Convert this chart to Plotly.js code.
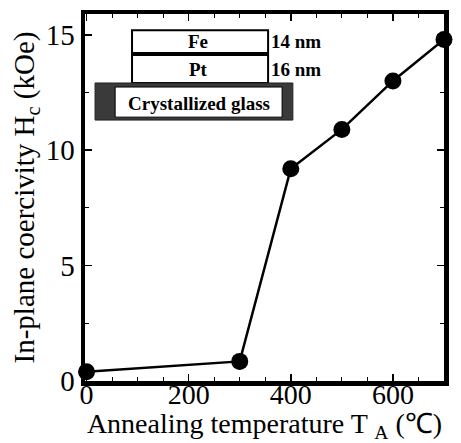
<!DOCTYPE html>
<html>
<head>
<meta charset="utf-8">
<script src="https://cdn.plot.ly/plotly-3.0.1.min.js"></script>
<style>html,body{margin:0;padding:0;background:#fff;}#chart{width:461px;height:443px;}</style>
</head>
<body>
<div id="chart"></div>
<script>
const temperatures = [0, 300, 400, 500, 600, 700];
const coercivity = [0.4, 0.85, 9.2, 10.9, 13.0, 14.8];
const xTicks = [0, 200, 400, 600];
const yTicks = [0, 5, 10, 15];
const layerLabels = ['Fe', 'Pt'];
const thicknessLabels = ['14 nm', '16 nm'];
const substrateLabel = 'Crystallized glass';

const serif = 'Liberation Serif';

const trace = {
  x: temperatures, y: coercivity, type: 'scatter', mode: 'lines+markers',
  line: {color: '#000', width: 2.5},
  marker: {color: '#000', size: 17},
  cliponaxis: false, showlegend: false
};

const fe = {x0: 0.131, x1: 0.510, y0: 0.894, y1: 0.956};
const pt = {x0: 0.131, x1: 0.510, y0: 0.812, y1: 0.888};
const glassOuter = {x0: 0.028, x1: 0.579, y0: 0.711, y1: 0.812};
const glassInner = {x0: 0.084, x1: 0.549, y0: 0.719, y1: 0.801};

function rect(g, lc, lw, fc) {
  return Object.assign({type: 'rect', xref: 'paper', yref: 'paper', line: {color: lc, width: lw}, fillcolor: fc}, g);
}
const shapes = [
  rect(fe, '#000', 2, '#fff'),
  rect(pt, '#000', 2, '#fff'),
  rect(glassOuter, '#222', 1, '#3a3a3a'),
  rect(glassInner, '#000', 1, '#fff')
];

const annFont = {family: serif, size: 19, color: '#000'};
function ann(text, x, y, xanchor) {
  return {text: '<b>' + text + '</b>', x: x, y: y, xref: 'paper', yref: 'paper',
          xanchor: xanchor, yanchor: 'middle', showarrow: false, font: annFont};
}
const annotations = [
  ann(layerLabels[0], 0.315, 0.925, 'center'),
  ann(layerLabels[1], 0.315, 0.850, 'center'),
  ann(thicknessLabels[0], 0.513, 0.925, 'left'),
  ann(thicknessLabels[1], 0.513, 0.850, 'left'),
  ann(substrateLabel, 0.318, 0.757, 'center')
];

const layout = {
  width: 461, height: 443,
  margin: {l: 85, r: 17, t: 14, b: 62},
  paper_bgcolor: '#fff', plot_bgcolor: '#fff',
  font: {family: serif, color: '#000'},
  xaxis: {
    range: [-3, 700], tickvals: xTicks, ticks: 'inside', ticklen: 7, tickwidth: 1.5, tickcolor: '#000',
    showline: true, linewidth: 4.5, linecolor: '#000', mirror: 'allticks', showgrid: false, zeroline: false,
    tickfont: {family: serif, size: 28}, ticklabelstandoff: -15,
    minor: {dtick: 50, ticks: 'inside', ticklen: 4, tickcolor: '#000', tickwidth: 1, showgrid: false},
    title: {text: 'Annealing temperature T <sub>A</sub> (\u2103)', font: {family: serif, size: 28}, standoff: 11}
  },
  yaxis: {
    range: [0, 15.9], tickvals: yTicks, ticks: 'inside', ticklen: 7, tickwidth: 1.5, tickcolor: '#000',
    showline: true, linewidth: 4.5, linecolor: '#000', mirror: 'allticks', showgrid: false, zeroline: false,
    tickfont: {family: serif, size: 29},
    minor: {dtick: 2.5, ticks: 'inside', ticklen: 4, tickcolor: '#000', tickwidth: 1, showgrid: false},
    title: {text: 'In-plane coercivity H<sub>c</sub> (kOe)', font: {family: serif, size: 29}, standoff: 4}
  },
  shapes: shapes,
  annotations: annotations
};

Plotly.newPlot('chart', [trace], layout, {displayModeBar: false, staticPlot: true});
</script>
</body>
</html>
